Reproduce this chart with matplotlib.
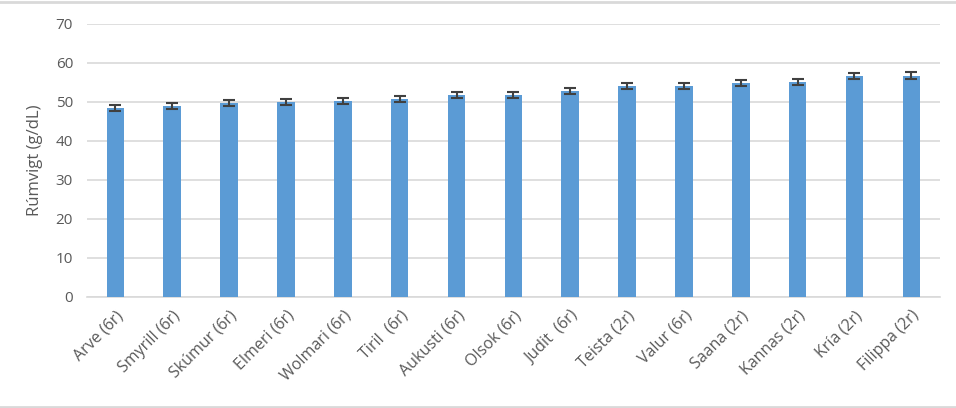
import matplotlib
matplotlib.use("Agg")
import matplotlib.pyplot as plt
from matplotlib.lines import Line2D

categories = ["Arve (6r)", "Smyrill (6r)", "Skúmur (6r)", "Elmeri (6r)", "Wolmari (6r)",
              "Tiril  (6r)", "Aukusti (6r)", "Olsok (6r)", "Judit  (6r)", "Teista (2r)",
              "Valur (6r)", "Saana (2r)", "Kannas (2r)", "Kría (2r)", "Filippa (2r)"]
values = [48.3, 48.8, 49.6, 49.9, 50.1, 50.6, 51.7, 51.7, 52.7, 54.0, 54.0, 54.7, 55.1, 56.5, 56.7]
errors = [0.8, 0.8, 0.8, 0.8, 0.8, 0.8, 0.8, 0.8, 0.8, 0.8, 0.8, 0.8, 0.8, 0.8, 0.8]
yticks = [0, 10, 20, 30, 40, 50, 60, 70]

plt.rcParams['font.family'] = ['Open Sans', 'DejaVu Sans']

fig = plt.figure(figsize=(9.56, 4.08), dpi=100)
ax = fig.add_axes([0.091, 0.273, 0.892, 0.669])

x = list(range(len(categories)))
ax.bar(x, values, width=0.31, color="#5b9bd5", zorder=3,
       yerr=errors, error_kw=dict(ecolor="#404040", elinewidth=1.5, capsize=4, capthick=1.5, zorder=4))

ax.set_xlim(-0.5, len(categories) - 0.5)
ax.set_ylim(0, 70)
ax.set_yticks(yticks)
ax.grid(axis="y", color="#d9d9d9", linewidth=1.2, zorder=0)
for s in ["top", "right", "left"]:
    ax.spines[s].set_visible(False)
ax.spines["bottom"].set_color("#d9d9d9")
ax.spines["bottom"].set_linewidth(1.2)
ax.tick_params(axis="both", length=0, colors="#595959")
ax.tick_params(axis="y", pad=10, labelsize=11)
ax.tick_params(axis="x", pad=8, labelsize=11.5)
ax.set_xticks(x)
ax.set_xticklabels(categories, rotation=45, ha="right", rotation_mode="anchor")
ax.set_ylabel("Rúmvigt (g/dL)", color="#595959", fontsize=12, labelpad=9)

for yy in (0.003, 0.996):
    fig.lines.append(Line2D([0, 1], [yy, yy], transform=fig.transFigure,
                            color="#d9d9d9", linewidth=2))

fig.savefig("out.png", dpi=100)
